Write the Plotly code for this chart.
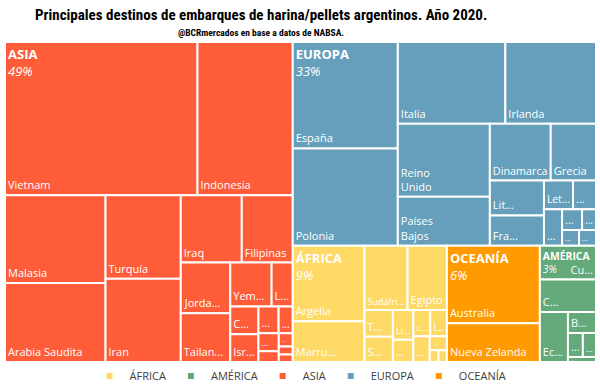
import plotly.graph_objects as go

# ---------------- data (thousand tonnes) ----------------
groups = ["ASIA", "EUROPA", "ÁFRICA", "OCEANÍA", "AMÉRICA"]
group_colors = ["#FF5C39", "#659FBB", "#FFD966", "#FF9A00", "#63A979"]

asia_names = ["Vietnam", "Indonesia", "Malasia", "Arabia Saudita", "Turquía", "Iran",
              "Iraq", "Filipinas", "Jordania", "Tailandia", "Yemen", "Líbano",
              "Corea del Sur", "Israel", "Otros 1", "Otros 2", "Otros 3", "Otros 4",
              "Otros 5", "Otros 6", "Otros 7"]
asia_text = ["Vietnam", "Indonesia", "Malasia", "Arabia Saudita", "Turquía", "Iran",
             "Iraq", "Filipinas", "Jorda...", "Tailan...", "Yem...", "L...",
             "C...", "Isr...", "...", "...", "...", "...", "...", "...", "..."]
asia_values = [4195, 2076, 1257, 1128, 895, 890, 584, 488, 357, 343, 258, 132,
               112, 111, 77, 54, 52, 31, 26, 16, 15]

europa_names = ["España", "Polonia", "Italia", "Irlanda", "Reino Unido", "Países Bajos",
                "Dinamarca", "Grecia", "Lituania", "Francia", "Letonia", "Otros 1",
                "Otros 2", "Otros 3", "Otros 4", "Otros 5", "Otros 6"]
europa_text = ["España", "Polonia", "Italia", "Irlanda", "Reino<br>Unido", "Países<br>Bajos",
               "Dinamarca", "Grecia", "Lit...", "Fra...", "Let...", "...",
               "...", "...", "...", "...", "..."]
europa_values = [1590, 1455, 1249, 1053, 958, 640, 492, 366, 269, 233, 119, 94,
                 94, 59, 41, 38, 38]

africa_names = ["Argelia", "Marruecos", "Sudáfrica", "Egipto", "Túnez", "Senegal",
                "Libia", "Otros 1", "Costa de Marfil", "Islas Mauricio", "Otros 2",
                "Otros 3", "Otros 4", "Otros 5"]
africa_text = ["Argelia", "Marru...", "Sudáfri...", "Egipto", "T...", "S...",
               "Li...", "...", "C...", "I...", "...", "...", "...", "..."]
africa_values = [770, 416, 394, 360, 108, 102, 86, 65, 63, 62, 60, 34, 15, 14]

oceania_names = ["Australia", "Nueva Zelanda"]
oceania_text = ["Australia", "Nueva Zelanda"]
oceania_values = [1025, 512]

america_names = ["Cuba", "Chile", "Ecuador", "Bolivia", "Otros 1", "Otros 2", "Otros 3"]
america_text = ["Cu...", "C...", "Ec...", "B...", "...", "...", "..."]
america_values = [270, 258, 200, 84, 51, 45, 20]

legend_order = ["ÁFRICA", "AMÉRICA", "ASIA", "EUROPA", "OCEANÍA"]
# continents whose top-left tile is too short: its name goes to the bottom-right
right_name_groups = ["AMÉRICA"]

title_text = "Principales destinos de embarques de harina/pellets argentinos. Año 2020."
subtitle_text = "@BCRmercados en base a datos de NABSA."

# ---------------- build hierarchy ----------------
members = {
    "ASIA": (asia_names, asia_text, asia_values),
    "EUROPA": (europa_names, europa_text, europa_values),
    "ÁFRICA": (africa_names, africa_text, africa_values),
    "OCEANÍA": (oceania_names, oceania_text, oceania_values),
    "AMÉRICA": (america_names, america_text, america_values),
}
color_of = dict(zip(groups, group_colors))
grand_total = sum(sum(m[2]) for m in members.values())

ids, labels, parents, values, colors = [], [], [], [], []
leaf_txt, head_txt, right_txt = [], [], []


def add(i, l, p, v, c, lt="", ht="", rt=""):
    ids.append(i); labels.append(l); parents.append(p); values.append(v); colors.append(c)
    leaf_txt.append(lt); head_txt.append(ht); right_txt.append(rt)


add("Total", "Total", "", 0, "#FFFFFF")
for g in groups:
    add(g, g, "Total", 0, color_of[g])
    names, txt, vals = members[g]
    share = "{:.0f}%".format(100.0 * sum(vals) / grand_total)
    biggest = vals.index(max(vals))
    for i, (n, t, v) in enumerate(zip(names, txt, vals)):
        header = "<b>" + g + "</b><br><i>" + share + "</i>" if i == biggest else ""
        if i == biggest and g in right_name_groups:
            add(g + "/" + n, n, g, v, color_of[g], "", header, t)
        else:
            add(g + "/" + n, n, g, v, color_of[g], t, header, "")

FONT = "Open Sans, Noto Sans, sans-serif"
pad0 = dict(t=0, l=0, r=0, b=0)
clear = ["rgba(0,0,0,0)"] * len(ids)


def overlay(text, position, size):
    # same hierarchy and tiling -> identical tiles; transparent, only carries text
    return go.Treemap(
        ids=ids, labels=labels, parents=parents, values=values,
        branchvalues="remainder", sort=True,
        text=text, textinfo="text", textposition=position,
        textfont=dict(family=FONT, size=size, color="white"),
        marker=dict(colors=clear, line=dict(width=0), pad=pad0),
        tiling=dict(packing="squarify", squarifyratio=1, pad=0),
        pathbar=dict(visible=False), root=dict(color="rgba(0,0,0,0)"),
        hoverinfo="skip",
    )


fig = go.Figure()
# base treemap: tiles + leaf names at bottom-left
fig.add_trace(go.Treemap(
    ids=ids, labels=labels, parents=parents, values=values,
    branchvalues="remainder", sort=True,
    text=leaf_txt, textinfo="text", textposition="bottom left",
    textfont=dict(family=FONT, size=11, color="white"),
    marker=dict(colors=colors, line=dict(color="white", width=2), pad=pad0),
    tiling=dict(packing="squarify", squarifyratio=1, pad=0),
    pathbar=dict(visible=False), root=dict(color="white"),
    hoverinfo="label+value+percent root",
))
fig.add_trace(overlay(head_txt, "top left", 13))
fig.add_trace(overlay(right_txt, "bottom right", 11))

# legend entries
for g in legend_order:
    fig.add_trace(go.Scatter(
        x=[None], y=[None], mode="markers", name=g,
        marker=dict(symbol="square", size=6, color=color_of[g]),
        showlegend=True,
    ))

ph = 392 - 42 - 30
pw = 600 - 5 - 4
TFONT = "Liberation Sans Narrow, Roboto Condensed, Arial Narrow, sans-serif"
fig.update_layout(
    width=600, height=392,
    margin=dict(l=5, r=4, t=42, b=30, autoexpand=False),
    paper_bgcolor="white", plot_bgcolor="white",
    font=dict(family=FONT, size=11, color="#404040"),
    xaxis=dict(visible=False), yaxis=dict(visible=False),
    showlegend=True,
    legend=dict(orientation="h", x=0.5, xanchor="center", y=-14 / ph, yanchor="middle",
                font=dict(size=11, color="#404040"), itemwidth=30,
                bgcolor="rgba(0,0,0,0)"),
    annotations=[
        dict(text="<b>" + title_text + "</b>", x=(261 - 5) / pw, y=(392 - 30 - 15) / ph,
             xref="paper", yref="paper", showarrow=False, xanchor="center", yanchor="middle",
             font=dict(family=TFONT, size=15, color="black")),
        dict(text="<b>" + subtitle_text + "</b>", x=(261 - 5) / pw, y=(392 - 30 - 32) / ph,
             xref="paper", yref="paper", showarrow=False, xanchor="center", yanchor="middle",
             font=dict(family=TFONT, size=9.5, color="black")),
    ],
)

fig.write_html("out.html", config={"displayModeBar": False},
               post_script="document.body.style.margin='0';")
